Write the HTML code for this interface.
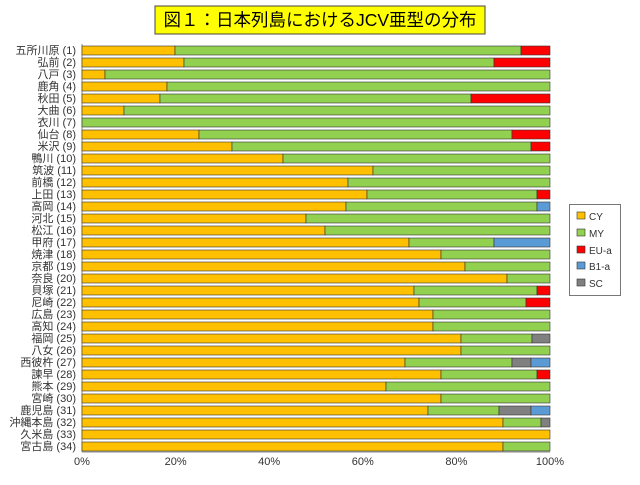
<!DOCTYPE html>
<html><head><meta charset="utf-8"><style>
html,body{margin:0;padding:0;background:#fff;}
svg text{font-family:"Liberation Sans","Noto Sans CJK JP",sans-serif;fill:#333;}
</style></head><body>
<svg width="640" height="480" xmlns="http://www.w3.org/2000/svg">
<rect x="155" y="6" width="330" height="28" fill="#FFFF00" stroke="#444" stroke-width="1"/>
<text x="320" y="26" font-size="17.5" text-anchor="middle" style="fill:#000">図１：日本列島におけるJCV亜型の分布</text>
<line x1="82" y1="44" x2="82" y2="452" stroke="#888"/>
<line x1="82" y1="452" x2="550" y2="452" stroke="#888"/>
<g font-size="11" fill="#555">
<text x="82" y="465" text-anchor="middle">0%</text>
<text x="175.6" y="465" text-anchor="middle">20%</text>
<text x="269.2" y="465" text-anchor="middle">40%</text>
<text x="362.8" y="465" text-anchor="middle">60%</text>
<text x="456.4" y="465" text-anchor="middle">80%</text>
<text x="550" y="465" text-anchor="middle">100%</text>
</g>
<g stroke="#333" stroke-width="0.6">
<!--1--><rect x="82" y="46" width="93" height="9" fill="#FFC000"/><rect x="175" y="46" width="346" height="9" fill="#92D050"/><rect x="521" y="46" width="29" height="9" fill="#FF0000"/>
<!--2--><rect x="82" y="58" width="102" height="9" fill="#FFC000"/><rect x="184" y="58" width="310" height="9" fill="#92D050"/><rect x="494" y="58" width="56" height="9" fill="#FF0000"/>
<!--3--><rect x="82" y="70" width="23" height="9" fill="#FFC000"/><rect x="105" y="70" width="445" height="9" fill="#92D050"/>
<!--4--><rect x="82" y="82" width="85" height="9" fill="#FFC000"/><rect x="167" y="82" width="383" height="9" fill="#92D050"/>
<!--5--><rect x="82" y="94" width="78" height="9" fill="#FFC000"/><rect x="160" y="94" width="311" height="9" fill="#92D050"/><rect x="471" y="94" width="79" height="9" fill="#FF0000"/>
<!--6--><rect x="82" y="106" width="42" height="9" fill="#FFC000"/><rect x="124" y="106" width="426" height="9" fill="#92D050"/>
<!--7--><rect x="82" y="118" width="468" height="9" fill="#92D050"/>
<!--8--><rect x="82" y="130" width="117" height="9" fill="#FFC000"/><rect x="199" y="130" width="313" height="9" fill="#92D050"/><rect x="512" y="130" width="38" height="9" fill="#FF0000"/>
<!--9--><rect x="82" y="142" width="150" height="9" fill="#FFC000"/><rect x="232" y="142" width="299" height="9" fill="#92D050"/><rect x="531" y="142" width="19" height="9" fill="#FF0000"/>
<!--10--><rect x="82" y="154" width="201" height="9" fill="#FFC000"/><rect x="283" y="154" width="267" height="9" fill="#92D050"/>
<!--11--><rect x="82" y="166" width="291" height="9" fill="#FFC000"/><rect x="373" y="166" width="177" height="9" fill="#92D050"/>
<!--12--><rect x="82" y="178" width="266" height="9" fill="#FFC000"/><rect x="348" y="178" width="202" height="9" fill="#92D050"/>
<!--13--><rect x="82" y="190" width="285" height="9" fill="#FFC000"/><rect x="367" y="190" width="170" height="9" fill="#92D050"/><rect x="537" y="190" width="13" height="9" fill="#FF0000"/>
<!--14--><rect x="82" y="202" width="264" height="9" fill="#FFC000"/><rect x="346" y="202" width="191" height="9" fill="#92D050"/><rect x="537" y="202" width="13" height="9" fill="#5B9BD5"/>
<!--15--><rect x="82" y="214" width="224" height="9" fill="#FFC000"/><rect x="306" y="214" width="244" height="9" fill="#92D050"/>
<!--16--><rect x="82" y="226" width="243" height="9" fill="#FFC000"/><rect x="325" y="226" width="225" height="9" fill="#92D050"/>
<!--17--><rect x="82" y="238" width="327" height="9" fill="#FFC000"/><rect x="409" y="238" width="85" height="9" fill="#92D050"/><rect x="494" y="238" width="56" height="9" fill="#5B9BD5"/>
<!--18--><rect x="82" y="250" width="359" height="9" fill="#FFC000"/><rect x="441" y="250" width="109" height="9" fill="#92D050"/>
<!--19--><rect x="82" y="262" width="383" height="9" fill="#FFC000"/><rect x="465" y="262" width="85" height="9" fill="#92D050"/>
<!--20--><rect x="82" y="274" width="425" height="9" fill="#FFC000"/><rect x="507" y="274" width="43" height="9" fill="#92D050"/>
<!--21--><rect x="82" y="286" width="332" height="9" fill="#FFC000"/><rect x="414" y="286" width="123" height="9" fill="#92D050"/><rect x="537" y="286" width="13" height="9" fill="#FF0000"/>
<!--22--><rect x="82" y="298" width="337" height="9" fill="#FFC000"/><rect x="419" y="298" width="107" height="9" fill="#92D050"/><rect x="526" y="298" width="24" height="9" fill="#FF0000"/>
<!--23--><rect x="82" y="310" width="351" height="9" fill="#FFC000"/><rect x="433" y="310" width="117" height="9" fill="#92D050"/>
<!--24--><rect x="82" y="322" width="351" height="9" fill="#FFC000"/><rect x="433" y="322" width="117" height="9" fill="#92D050"/>
<!--25--><rect x="82" y="334" width="379" height="9" fill="#FFC000"/><rect x="461" y="334" width="71" height="9" fill="#92D050"/><rect x="532" y="334" width="18" height="9" fill="#808080"/>
<!--26--><rect x="82" y="346" width="379" height="9" fill="#FFC000"/><rect x="461" y="346" width="89" height="9" fill="#92D050"/>
<!--27--><rect x="82" y="358" width="323" height="9" fill="#FFC000"/><rect x="405" y="358" width="107" height="9" fill="#92D050"/><rect x="512" y="358" width="19" height="9" fill="#808080"/><rect x="531" y="358" width="19" height="9" fill="#5B9BD5"/>
<!--28--><rect x="82" y="370" width="359" height="9" fill="#FFC000"/><rect x="441" y="370" width="96" height="9" fill="#92D050"/><rect x="537" y="370" width="13" height="9" fill="#FF0000"/>
<!--29--><rect x="82" y="382" width="304" height="9" fill="#FFC000"/><rect x="386" y="382" width="164" height="9" fill="#92D050"/>
<!--30--><rect x="82" y="394" width="359" height="9" fill="#FFC000"/><rect x="441" y="394" width="109" height="9" fill="#92D050"/>
<!--31--><rect x="82" y="406" width="346" height="9" fill="#FFC000"/><rect x="428" y="406" width="71" height="9" fill="#92D050"/><rect x="499" y="406" width="32" height="9" fill="#808080"/><rect x="531" y="406" width="19" height="9" fill="#5B9BD5"/>
<!--32--><rect x="82" y="418" width="421" height="9" fill="#FFC000"/><rect x="503" y="418" width="38" height="9" fill="#92D050"/><rect x="541" y="418" width="9" height="9" fill="#808080"/>
<!--33--><rect x="82" y="430" width="468" height="9" fill="#FFC000"/>
<!--34--><rect x="82" y="442" width="421" height="9" fill="#FFC000"/><rect x="503" y="442" width="47" height="9" fill="#92D050"/>
</g>
<g font-size="11" text-anchor="end">
<text x="76" y="54">五所川原 (1)</text>
<text x="76" y="66">弘前 (2)</text>
<text x="76" y="78">八戸 (3)</text>
<text x="76" y="90">鹿角 (4)</text>
<text x="76" y="102">秋田 (5)</text>
<text x="76" y="114">大曲 (6)</text>
<text x="76" y="126">衣川 (7)</text>
<text x="76" y="138">仙台 (8)</text>
<text x="76" y="150">米沢 (9)</text>
<text x="76" y="162">鴨川 (10)</text>
<text x="76" y="174">筑波 (11)</text>
<text x="76" y="186">前橋 (12)</text>
<text x="76" y="198">上田 (13)</text>
<text x="76" y="210">高岡 (14)</text>
<text x="76" y="222">河北 (15)</text>
<text x="76" y="234">松江 (16)</text>
<text x="76" y="246">甲府 (17)</text>
<text x="76" y="258">焼津 (18)</text>
<text x="76" y="270">京都 (19)</text>
<text x="76" y="282">奈良 (20)</text>
<text x="76" y="294">貝塚 (21)</text>
<text x="76" y="306">尼崎 (22)</text>
<text x="76" y="318">広島 (23)</text>
<text x="76" y="330">高知 (24)</text>
<text x="76" y="342">福岡 (25)</text>
<text x="76" y="354">八女 (26)</text>
<text x="76" y="366">西彼杵 (27)</text>
<text x="76" y="378">諫早 (28)</text>
<text x="76" y="390">熊本 (29)</text>
<text x="76" y="402">宮崎 (30)</text>
<text x="76" y="414">鹿児島 (31)</text>
<text x="76" y="426">沖縄本島 (32)</text>
<text x="76" y="438">久米島 (33)</text>
<text x="76" y="450">宮古島 (34)</text>
</g>
<rect x="569.5" y="204.5" width="51" height="91" fill="#fff" stroke="#777"/>
<g stroke="#333" stroke-width="0.6">
<rect x="577" y="212" width="8" height="7" fill="#FFC000"/>
<rect x="577" y="229" width="8" height="7" fill="#92D050"/>
<rect x="577" y="246" width="8" height="7" fill="#FF0000"/>
<rect x="577" y="262" width="8" height="7" fill="#5B9BD5"/>
<rect x="577" y="279" width="8" height="7" fill="#808080"/>
</g>
<g font-size="10" fill="#555">
<text x="589" y="220">CY</text>
<text x="589" y="237">MY</text>
<text x="589" y="254">EU-a</text>
<text x="589" y="270">B1-a</text>
<text x="589" y="287">SC</text>
</g>
</svg>
</body></html>
